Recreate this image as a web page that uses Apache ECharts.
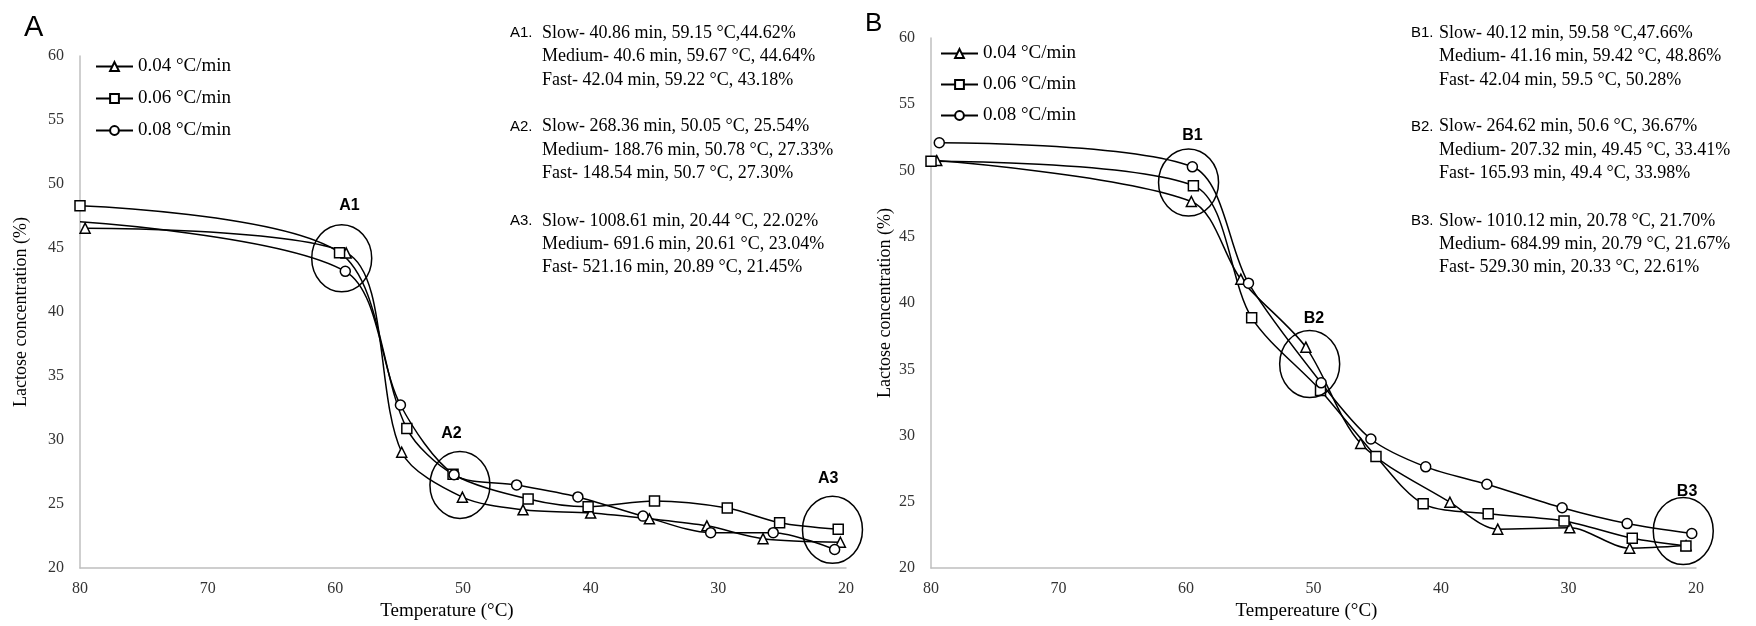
<!DOCTYPE html>
<html>
<head>
<meta charset="utf-8">
<title>Lactose concentration vs temperature</title>
<script src="https://cdn.jsdelivr.net/npm/echarts@6/dist/echarts.min.js"></script>
<style>
  html, body { margin: 0; padding: 0; background: #fff; }
  #chart { width: 1756px; height: 626px; }
</style>
</head>
<body>
<div id="chart"></div>
<script>
// series names (cooling rates)
var rateNames = ['0.04 °C/min', '0.06 °C/min', '0.08 °C/min'];
var rateSymbols = ['triangle', 'rect', 'circle'];

// panel A: [temperature °C, lactose %]
var a004 = [[79.6, 46.55], [59.15, 44.62], [54.8, 29.05], [50.05, 25.54], [45.3, 24.55], [40.0, 24.3], [35.4, 23.85], [30.9, 23.3], [26.5, 22.3], [20.44, 22.02]];
var a006 = [[80, 48.3], [59.67, 44.64], [54.4, 30.9], [50.78, 27.33], [44.9, 25.4], [40.2, 24.8], [35.0, 25.25], [29.3, 24.7], [25.2, 23.55], [20.61, 23.04]];
var a008 = [[80, 47.05], [59.22, 43.18], [54.9, 32.74], [50.7, 27.3], [45.8, 26.5], [41.0, 25.56], [35.9, 24.06], [30.6, 22.77], [25.7, 22.77], [20.89, 21.45]];
var a008NoMarker = [0];

// panel B
var b004 = [[79.55, 50.75], [59.58, 47.66], [55.7, 41.8], [50.6, 36.67], [46.3, 29.4], [39.3, 24.97], [35.55, 22.94], [29.9, 23.04], [25.2, 21.5], [20.78, 21.7]];
var b006 = [[80, 50.7], [59.42, 48.86], [54.85, 38.9], [49.45, 33.41], [45.1, 28.43], [41.4, 24.85], [36.3, 24.1], [30.35, 23.56], [25.0, 22.25], [20.79, 21.67]];
var b008 = [[79.35, 52.1], [59.5, 50.28], [55.1, 41.5], [49.4, 33.98], [45.5, 29.74], [41.2, 27.64], [36.4, 26.33], [30.5, 24.55], [25.4, 23.36], [20.33, 22.61]];

// circled regions: centre and label position in data units
var markNamesA = ['A1', 'A2', 'A3'];
var markCentresA = [[59.5, 44.2], [50.24, 26.5], [21.06, 23.0]];
var markLabelsA = [[58.9, 48.35], [50.9, 30.5], [21.4, 26.98]];
var markNamesB = ['B1', 'B2', 'B3'];
var markCentresB = [[59.8, 49.1], [50.3, 35.4], [21.0, 22.8]];
var markLabelsB = [[59.5, 52.66], [49.96, 38.82], [20.7, 25.76]];

// side notes
var notesA = [
  ['A1.', 'Slow- 40.86 min, 59.15 °C,44.62%', 'Medium- 40.6 min, 59.67 °C, 44.64%', 'Fast- 42.04 min, 59.22 °C, 43.18%'],
  ['A2.', 'Slow- 268.36 min, 50.05 °C, 25.54%', 'Medium- 188.76 min, 50.78 °C, 27.33%', 'Fast- 148.54 min, 50.7 °C, 27.30%'],
  ['A3.', 'Slow- 1008.61 min, 20.44 °C, 22.02%', 'Medium- 691.6 min, 20.61 °C, 23.04%', 'Fast- 521.16 min, 20.89 °C, 21.45%']
];
var notesB = [
  ['B1.', 'Slow- 40.12 min, 59.58 °C,47.66%', 'Medium- 41.16 min, 59.42 °C, 48.86%', 'Fast- 42.04 min, 59.5 °C, 50.28%'],
  ['B2.', 'Slow- 264.62 min, 50.6 °C, 36.67%', 'Medium- 207.32 min, 49.45 °C, 33.41%', 'Fast- 165.93 min, 49.4 °C, 33.98%'],
  ['B3.', 'Slow- 1010.12 min, 20.78 °C, 21.70%', 'Medium- 684.99 min, 20.79 °C, 21.67%', 'Fast- 529.30 min, 20.33 °C, 22.61%']
];

var serif = '"Liberation Serif", "Times New Roman", serif';
var sans = '"Liberation Sans", Arial, sans-serif';

var myChart = echarts.init(document.getElementById('chart'));

function lineSeries(idx, gridIdx, data, noMarker) {
  return {
    name: rateNames[idx],
    type: 'line',
    xAxisIndex: gridIdx,
    yAxisIndex: gridIdx,
    smooth: 0.3,
    symbol: rateSymbols[idx],
    symbolSize: 10,
    showAllSymbol: true,
    z: 3,
    lineStyle: { color: '#000', width: 1.5 },
    itemStyle: { color: '#fff', borderColor: '#000', borderWidth: 1.5 },
    emphasis: { disabled: true },
    data: data.map(function(p, i) {
      if (noMarker && noMarker.indexOf(i) >= 0) {
        return { value: p, symbol: 'none' };
      }
      return p;
    })
  };
}

function markSeries(gridIdx, names, centres, labels) {
  return {
    type: 'custom',
    xAxisIndex: gridIdx,
    yAxisIndex: gridIdx,
    silent: true,
    z: 4,
    data: centres.map(function(c, i) { return [c[0], c[1], labels[i][0], labels[i][1]]; }),
    renderItem: function(params, api) {
      var c = api.coord([api.value(0), api.value(1)]);
      var l = api.coord([api.value(2), api.value(3)]);
      return {
        type: 'group',
        children: [{
          type: 'ellipse',
          shape: { cx: c[0], cy: c[1], rx: 30, ry: 33.5 },
          style: { fill: 'none', stroke: '#000', lineWidth: 1.5 }
        }, {
          type: 'text',
          x: l[0],
          y: l[1],
          style: {
            text: names[params.dataIndex],
            fontFamily: sans,
            fontSize: 16,
            fontWeight: 'bold',
            fill: '#000',
            align: 'center',
            verticalAlign: 'middle'
          }
        }]
      };
    }
  };
}

function noteTexts(notes, labelX, textX) {
  var rowY = [[33.3, 56.7, 80], [126.7, 150, 173.3], [221, 244.3, 267.7]];
  var out = [];
  notes.forEach(function(block, b) {
    out.push({
      type: 'text', x: labelX, y: rowY[b][0],
      style: { text: block[0], fontFamily: sans, fontSize: 15, fill: '#000', verticalAlign: 'middle' }
    });
    for (var r = 1; r < 4; r++) {
      out.push({
        type: 'text', x: textX, y: rowY[b][r - 1],
        style: { text: block[r], fontFamily: serif, fontSize: 18, fill: '#000', verticalAlign: 'middle' }
      });
    }
  });
  return out;
}

function xAxis(gridIdx, name, gap, shift) {
  return {
    type: 'value',
    gridIndex: gridIdx,
    min: 20, max: 80, interval: 10,
    inverse: true,
    name: name,
    nameLocation: 'middle',
    nameGap: gap,
    nameTextStyle: { fontFamily: serif, fontSize: 19, color: '#000', padding: [0, shift, 0, 0] },
    axisLine: { lineStyle: { color: '#bfbfbf', width: 1.5 } },
    axisTick: { show: false },
    splitLine: { show: false },
    axisLabel: { fontFamily: serif, fontSize: 16, color: '#333', margin: 13 }
  };
}

function yAxis(gridIdx, gap) {
  return {
    type: 'value',
    gridIndex: gridIdx,
    min: 20, max: 60, interval: 5,
    name: 'Lactose concentration (%)',
    nameLocation: 'middle',
    nameGap: gap,
    nameTextStyle: { fontFamily: serif, fontSize: 18, color: '#000' },
    axisLine: { show: true, lineStyle: { color: '#bfbfbf', width: 1.5 } },
    axisTick: { show: false },
    splitLine: { show: false },
    axisLabel: { fontFamily: serif, fontSize: 16, color: '#333', margin: 16 }
  };
}

function legend(left, top, gap) {
  return {
    orient: 'vertical',
    left: left,
    top: top,
    itemWidth: 37,
    itemHeight: 11,
    itemGap: gap,
    data: rateNames,
    selectedMode: false,
    textStyle: { fontFamily: serif, fontSize: 19, color: '#000' }
  };
}

var option = {
  animation: false,
  backgroundColor: '#fff',
  grid: [
    { left: 80, right: 910, top: 56, bottom: 54 },
    { left: 931, right: 60, top: 38, bottom: 49 }
  ],
  xAxis: [xAxis(0, 'Temperature (°C)', 31, 32), xAxis(1, 'Tempereature (°C)', 28, 14)],
  yAxis: [yAxis(0, 50), yAxis(1, 37)],
  legend: [legend(90, 52, 13), legend(935, 39, 12)],
  graphic: [
    { type: 'text', x: 24, y: 13, style: { text: 'A', fontFamily: sans, fontSize: 29, fill: '#000' } },
    { type: 'text', x: 865, y: 11, style: { text: 'B', fontFamily: sans, fontSize: 26, fill: '#000' } }
  ].concat(noteTexts(notesA, 510, 542), noteTexts(notesB, 1411, 1439)),
  series: [
    lineSeries(0, 0, a004),
    lineSeries(1, 0, a006),
    lineSeries(2, 0, a008, a008NoMarker),
    lineSeries(0, 1, b004),
    lineSeries(1, 1, b006),
    lineSeries(2, 1, b008),
    markSeries(0, markNamesA, markCentresA, markLabelsA),
    markSeries(1, markNamesB, markCentresB, markLabelsB)
  ]
};

myChart.setOption(option);
</script>
</body>
</html>
